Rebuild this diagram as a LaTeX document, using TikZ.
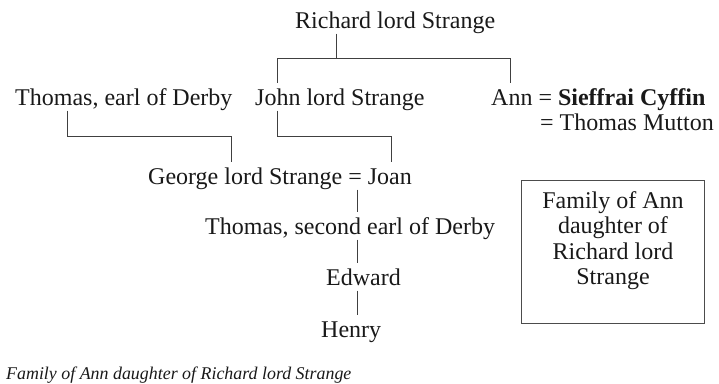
\documentclass[tikz,border=0pt]{standalone}
\usepackage{fontspec}
\setmainfont{Liberation Serif}
\usetikzlibrary{positioning}

\begin{document}
\begin{tikzpicture}[x=1pt,y=-1pt,every node/.style={font=\fontsize{24}{25.3}\selectfont,text=black!90},
  person/.style={inner sep=0pt,text height=22pt,text depth=5.5pt,anchor=base west},
  kin/.style={line width=.9pt,draw=black!75}]
\useasboundingbox (0,0) rectangle (719,383);
\node[person] (richard) at (295,28) {Richard lord Strange};
\node[person] (thomasderby) at (15,105) {Thomas, earl of Derby};
\node[person] (john) at (255,105) {John lord Strange};
\node[person] (ann) at (491,105) {Ann = \textbf{Sieffrai Cyffin}};
\node[person] (mutton) at (540,130) {= Thomas Mutton};
\node[person] (george) at (148,184) {George lord Strange = Joan};
\node[person] (thomastwo) at (205,234) {Thomas, second earl of Derby};
\node[person] (edward) at (326,285) {Edward};
\node[person] (henry) at (321,337) {Henry};
\draw[kin](richard.south -| 336,0)--(336,58)-|(john.north -| 277,0);
\draw[kin](336,58)-|(ann.north -| 510,0);
\draw[kin](thomasderby.south -| 67,0)|-(231,136)--(george.north -| 231,0);
\draw[kin](john.south -| 277,0)|-(391,136)--(george.north -| 391,0);
\draw[kin](george.south -| 357,0)--(thomastwo.north -| 357,0);
\draw[kin](thomastwo.south -| 357,0)--(edward.north -| 357,0);
\draw[kin](edward.south -| 357,0)--(henry.north -| 357,0);
\node[draw=black!70,line width=.9pt,minimum width=183pt,minimum height=143pt,anchor=north west,inner sep=0pt] (fambox) at (521,180) {};
\node[align=center,inner sep=0pt,anchor=north] (famtext) at (613,191.5) {Family of Ann\\daughter of\\Richard lord\\Strange};
\node[anchor=base west,inner sep=0pt,font=\fontsize{17.9}{20}\selectfont\itshape] (caption) at (6,379) {Family of Ann daughter of Richard lord Strange};
\end{tikzpicture}
\end{document}
